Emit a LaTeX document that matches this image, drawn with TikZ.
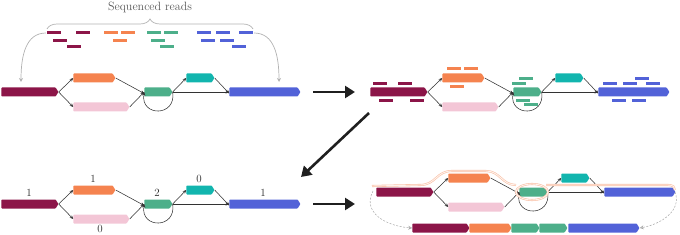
\documentclass[tikz,border=0pt]{standalone}
\usetikzlibrary{shapes.symbols,arrows.meta,decorations.pathreplacing}
\definecolor{cMar}{HTML}{8C1548}
\definecolor{cOra}{HTML}{F5834F}
\definecolor{cPink}{HTML}{F3C6D6}
\definecolor{cGrn}{HTML}{4DAF8A}
\definecolor{cTeal}{HTML}{12B5AE}
\definecolor{cBlue}{HTML}{5262D8}
\tikzset{
  seg/.style={signal, signal to=east, signal pointer angle=115, minimum height=9pt,
    inner sep=0pt, draw=none, rounded corners=0.6pt},
  edge/.style={draw=black!80, line width=0.55pt, -{Stealth[length=3.6pt,width=3.2pt]}},
  rd/.style={line width=3pt},
  lbl/.style={font=\fontsize{11}{13}\selectfont, inner sep=0pt, text=black!85},
  bigarrow/.style={draw=black!88, line width=2.6pt, -{Triangle[length=10pt,width=12pt]}},
  grayarrow/.style={draw=black!30, line width=0.7pt, -{Stealth[length=4pt,width=4pt,open]}},
  hl/.style={draw=cOra!50, line width=0.6pt, double=cOra!10, double distance=0.9pt},
  dasharrow/.style={draw=black!35, dashed, dash pattern=on 2pt off 1.5pt, line width=0.5pt, -{Stealth[length=4pt,width=4pt,open]}}
}
\newcommand\mygraph[2]{%
  \node[seg,fill=cMar,minimum width=57pt,#2] (#1m) at (28.5,0) {};
  \node[seg,fill=cOra,minimum width=42pt] (#1o) at (93,-14) {};
  \node[seg,fill=cPink,minimum width=56pt] (#1p) at (100,15) {};
  \node[seg,fill=cGrn,minimum width=28pt] (#1g) at (157,0) {};
  \node[seg,fill=cTeal,minimum width=28pt] (#1t) at (199,-14) {};
  \node[seg,fill=cBlue,minimum width=71pt] (#1b) at (263.5,0) {};
  \draw[edge] (#1m.east) -- (#1o.west);
  \draw[edge] (#1m.east) -- (#1p.west);
  \draw[edge] (#1o.east) -- ([yshift=-1.5pt]#1g.west);
  \draw[edge] (#1p.east) -- (#1g.west);
  \draw[edge] (#1g.east) -- (#1t.west);
  \draw[edge] (#1g.east) -- (#1b.west);
  \draw[edge] (#1t.east) -- ([yshift=-1.5pt]#1b.west);
  \draw[edge] (#1g.east) .. controls +(4,25) and +(-4,25) .. (#1g.west);
}
\begin{document}
\begin{tikzpicture}[x=1pt,y=-1pt]
\useasboundingbox (0,0) rectangle (680,235);

% ---------- top-left ----------
\node[font=\fontsize{12}{14}\selectfont, text=black!65, inner sep=0pt] (title) at (150,7) {Sequenced reads};
\draw[black!30, line width=0.7pt, decorate, decoration={brace, amplitude=10pt}] (47,29) -- (253,29);
\coordinate (bl) at (46,33);
\coordinate (br) at (254,33);
\coordinate (tl) at (21,82);
\coordinate (tr) at (279,82);
\draw[grayarrow] (bl) .. controls (26,33) and (21,55) .. (tl);
\draw[grayarrow] (br) .. controls (274,33) and (279,55) .. (tr);

% reads (top-left)
\foreach \x/\y in {47/33,76/33,53/41,67/47} \draw[rd,cMar] (\x,\y) -- +(14,0);
\foreach \x/\y in {104/33,121/33,113/41} \draw[rd,cOra] (\x,\y) -- +(14,0);
\foreach \x/\y in {147/33,164/33,151/41,160/47} \draw[rd,cGrn] (\x,\y) -- +(14,0);
\foreach \x/\y in {197/33,216/33,239/33,201/41,220/41,232/47} \draw[rd,cBlue] (\x,\y) -- +(14,0);

\begin{scope}[shift={(0,92)}]
  \mygraph{A}{}
\end{scope}

% ---------- top-right ----------
\begin{scope}[shift={(369,92)}]
  \mygraph{B}{}
\end{scope}
\foreach \x/\y in {373/84,398/84,379/101,410/101} \draw[rd,cMar] (\x,\y) -- +(14,0);
\foreach \x/\y in {447/69,464/69,450/87} \draw[rd,cOra] (\x,\y) -- +(14,0);
\foreach \x/\y in {519/79,512/84,516/101,524/105} \draw[rd,cGrn] (\x,\y) -- +(14,0);
\foreach \x/\y in {603/84,623/84,635/79,646/84,612/101,632/101} \draw[rd,cBlue] (\x,\y) -- +(14,0);

% ---------- bottom-left ----------
\begin{scope}[shift={(0,204)}]
  \mygraph{C}{}
\end{scope}
\node[lbl] (n1) at (29,193) {1};
\node[lbl] (n2) at (93,179) {1};
\node[lbl] (n3) at (100,229) {0};
\node[lbl] (n4) at (157,193) {2};
\node[lbl] (n5) at (199,179) {0};
\node[lbl] (n6) at (263,193) {1};

% ---------- bottom-right ----------
\begin{scope}[shift={(375,192)}]
  \mygraph{D}{}
\end{scope}
\node[seg,fill=cMar,minimum width=57pt] (r1) at (439.5,228) {};
\node[seg,fill=cOra,minimum width=42pt] (r2) at (489,228) {};
\node[seg,fill=cGrn,minimum width=28pt] (r3) at (524,228) {};
\node[seg,fill=cGrn,minimum width=28pt] (r4) at (552,228) {};
\node[seg,fill=cBlue,minimum width=71pt] (r5) at (602.5,228) {};
% highlighted path
\draw[hl] (372,186) -- (420,185) .. controls (436,185) and (436,171) .. (452,171) -- (486,171)
   .. controls (500,171) and (502,185) .. (516,185);
\draw[hl] (Dg) ellipse [x radius=16pt, y radius=8pt];
\draw[hl] (546,185) -- (668,185) .. controls (673,185) and (675,187) .. (675,190);
\coordinate (dl) at (373,191);
\coordinate (dr) at (675,192);
\draw[dasharrow] (dl) .. controls (362,212) and (385,226) .. (r1.west);
\draw[dasharrow] (dr) .. controls (682,210) and (662,224) .. (r5.east);

% ---------- big arrows ----------
\coordinate (a1s) at (313,92);  \coordinate (a1e) at (355,92);
\coordinate (a2s) at (369,113); \coordinate (a2e) at (301,177);
\coordinate (a3s) at (313,204); \coordinate (a3e) at (355,204);
\draw[bigarrow] (a1s) -- (a1e);
\draw[bigarrow] (a2s) -- (a2e);
\draw[bigarrow] (a3s) -- (a3e);
\end{tikzpicture}
\end{document}
